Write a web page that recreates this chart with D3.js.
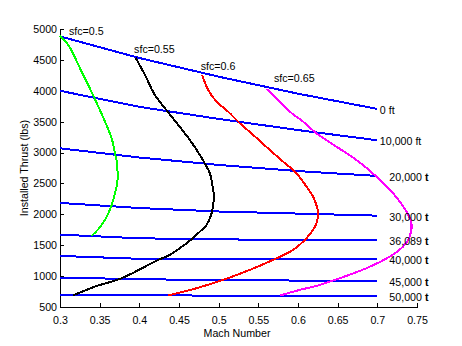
<!DOCTYPE html>
<html>
<head>
<meta charset="utf-8">
<script src="https://cdn.jsdelivr.net/npm/d3@7/dist/d3.min.js"></script>
<style>
  html, body { margin: 0; padding: 0; background: #fff; }
  svg { display: block; }
  text { font-family: "Liberation Sans", Arial, sans-serif; }
</style>
</head>
<body>
<svg id="chart" width="462" height="346"></svg>
<script>
// Installed thrust vs Mach number at constant altitude, with lines of constant sfc

// Altitude lines, thrust (lbs) at each Mach number
const altMach = [0.3, 0.4, 0.5, 0.6, 0.7];
const altLabels = ["0 ft", "10,000 ft", "20,000 t", "30,000 t", "36,089 t", "40,000 t", "45,000 t", "50,000 t"];
const thrust0k  = [4880, 4531, 4228, 3953, 3706];
const thrust10k = [4000, 3740, 3544, 3364, 3199];
const thrust20k = [3069, 2920, 2800, 2700, 2621];
const thrust30k = [2185, 2102, 2046, 2012, 1979];
const thrust36k = [1672, 1612, 1595, 1585, 1586];
const thrust40k = [1327, 1280, 1274, 1274, 1274];
const thrust45k = [976, 950, 935, 928, 928];
const thrust50k = [696, 688, 685, 685, 684];

// Constant sfc curves
const sfcLabels = ["sfc=0.5", "sfc=0.55", "sfc=0.6", "sfc=0.65"];
const sfc050Mach   = [0.300, 0.3105, 0.3273, 0.3432, 0.3567, 0.3651, 0.3693, 0.3718, 0.3722, 0.3693, 0.3642, 0.3567, 0.3482, 0.3399];
const sfc050Thrust = [4890, 4741, 4309, 3889, 3500, 3231, 2989, 2827, 2503, 2342, 2115, 1910, 1759, 1651];
const sfc055Mach   = [0.3953, 0.4071, 0.4196, 0.4364, 0.4637, 0.4763, 0.4848, 0.4889, 0.4931, 0.4940, 0.4911, 0.4848, 0.4763, 0.4659, 0.4511, 0.4385, 0.4238, 0.3777, 0.3441, 0.3168];
const sfc055Thrust = [4536, 4256, 3932, 3652, 3204, 2961, 2772, 2665, 2395, 2287, 2018, 1829, 1720, 1597, 1452, 1343, 1262, 966, 830, 690];
const sfc060Mach   = [0.4792, 0.4868, 0.4974, 0.5120, 0.5267, 0.5435, 0.5645, 0.5812, 0.5981, 0.6107, 0.6190, 0.6253, 0.6233, 0.6190, 0.6107, 0.5938, 0.5686, 0.5393, 0.5057, 0.4722, 0.4364];
const sfc060Thrust = [4256, 4013, 3824, 3662, 3474, 3285, 3042, 2853, 2665, 2448, 2287, 2018, 1856, 1748, 1614, 1424, 1263, 1101, 939, 804, 686];
const sfc065Mach   = [0.5603, 0.5729, 0.5897, 0.6064, 0.6233, 0.6485, 0.6737, 0.6989, 0.7198, 0.7367, 0.7430, 0.7408, 0.7324, 0.7156, 0.6863, 0.6526, 0.6233, 0.6023, 0.5771];
const sfc065Thrust = [4029, 3879, 3662, 3500, 3312, 3095, 2880, 2610, 2342, 2044, 1856, 1639, 1478, 1316, 1128, 966, 842, 777, 685];

// Axis ticks
const machTicks = [0.3, 0.35, 0.4, 0.45, 0.5, 0.55, 0.6, 0.65, 0.7, 0.75];
const thrustTicks = [500, 1000, 1500, 2000, 2500, 3000, 3500, 4000, 4500, 5000];

const svg = d3.select("#chart");
svg.append("rect").attr("width", 462).attr("height", 346).attr("fill", "#fff");

const x = d3.scaleLinear().domain([0.3, 0.75]).range([60, 417]);
const y = d3.scaleLinear().domain([500, 5000]).range([307, 29]);

const fontSize = "10.67px";

// Axes (ticks point inward, no box)
const xAxis = d3.axisBottom(x).tickValues(machTicks)
  .tickFormat(d => String(+d.toFixed(2)))
  .tickSizeInner(-4).tickSizeOuter(0).tickPadding(9);
const yAxis = d3.axisLeft(y).tickValues(thrustTicks)
  .tickFormat(d => String(d))
  .tickSizeInner(-4).tickSizeOuter(0).tickPadding(3);

const gx = svg.append("g").attr("transform", "translate(0,307)").call(xAxis);
const gy = svg.append("g").attr("transform", "translate(60,0)").call(yAxis);
[gx, gy].forEach(g => {
  g.selectAll("path, line").attr("stroke", "#000").attr("shape-rendering", "crispEdges");
  g.selectAll("text").attr("fill", "#000").style("font-size", fontSize)
    .style("font-family", "'Liberation Sans', Arial, sans-serif");
});

// Altitude lines
const altSeries = [thrust0k, thrust10k, thrust20k, thrust30k, thrust36k, thrust40k, thrust45k, thrust50k];
const lineAlt = d3.line().x(d => x(d[0])).y(d => y(d[1]));
altSeries.forEach(vals => {
  svg.append("path")
    .attr("d", lineAlt(altMach.map((m, i) => [m, vals[i]])))
    .attr("fill", "none").attr("stroke", "#0000ff").attr("stroke-width", 2)
    .attr("shape-rendering", "crispEdges");
});

// sfc curves
const sfcSeries = [
  { mach: sfc050Mach, thrust: sfc050Thrust, color: "#00ff00" },
  { mach: sfc055Mach, thrust: sfc055Thrust, color: "#000000" },
  { mach: sfc060Mach, thrust: sfc060Thrust, color: "#ff0000" },
  { mach: sfc065Mach, thrust: sfc065Thrust, color: "#ff00ff" }
];
const lineSfc = d3.line().x(d => x(d[0])).y(d => y(d[1])).curve(d3.curveCatmullRom.alpha(0.5));
sfcSeries.forEach(s => {
  svg.append("path")
    .attr("d", lineSfc(s.mach.map((m, i) => [m, s.thrust[i]])))
    .attr("fill", "none").attr("stroke", s.color).attr("stroke-width", 2)
    .attr("shape-rendering", "crispEdges");
});

// sfc labels, placed near the top of each curve
const sfcLabelOffset = [[9, -0.5], [-1.5, -4.5], [-1.5, -4.5], [7.5, -6.5]];
sfcSeries.forEach((s, i) => {
  svg.append("text")
    .attr("x", x(s.mach[0]) + sfcLabelOffset[i][0])
    .attr("y", y(s.thrust[0]) + sfcLabelOffset[i][1])
    .style("font-size", fontSize).attr("fill", "#000")
    .text(sfcLabels[i]);
});

// Altitude labels at the right end of each line
altSeries.forEach((vals, i) => {
  const label = altLabels[i];
  const dx = i < 2 ? 2.5 : 12;
  const t = svg.append("text")
    .attr("x", x(altMach[altMach.length - 1]) + dx)
    .attr("y", y(vals[vals.length - 1]) + 5)
    .style("font-size", fontSize).attr("fill", "#000");
  if (label.endsWith(" t")) {
    t.append("tspan").text(label.slice(0, -1));
    t.append("tspan").attr("font-weight", "bold").text("t");
  } else {
    t.text(label);
  }
});

// Axis titles
svg.append("text")
  .attr("x", 237).attr("y", 337)
  .attr("text-anchor", "middle")
  .style("font-size", fontSize).attr("fill", "#000")
  .text("Mach Number");

svg.append("text")
  .attr("transform", "translate(27.5,168) rotate(-90)")
  .attr("text-anchor", "middle")
  .style("font-size", fontSize).attr("fill", "#000")
  .text("Installed Thrust (lbs)");
</script>
</body>
</html>
